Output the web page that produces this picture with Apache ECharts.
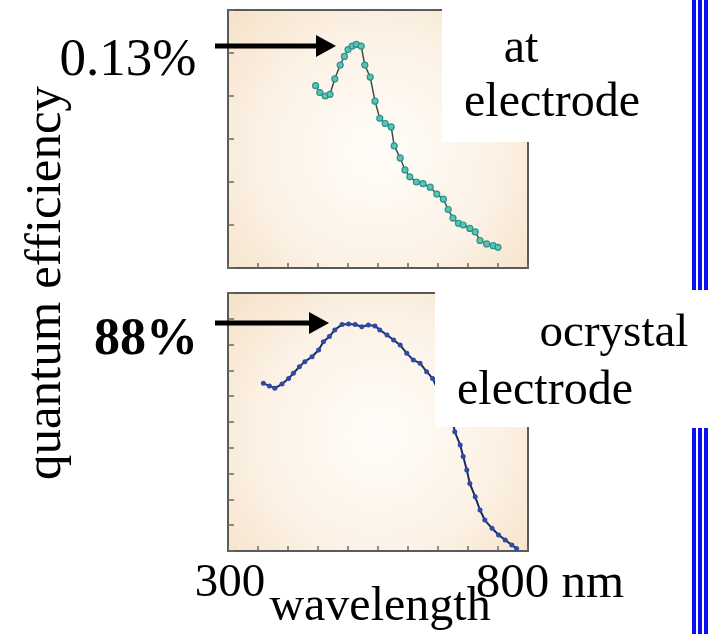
<!DOCTYPE html>
<html>
<head>
<meta charset="utf-8">
<script src="https://cdn.jsdelivr.net/npm/echarts@6/dist/echarts.min.js"></script>
<style>
  html, body { margin: 0; padding: 0; background: #ffffff; }
  #chart { width: 708px; height: 634px; }
</style>
</head>
<body>
<div id="chart"></div>
<script>
// Wavelength axis (nm)
const wlMin = 300, wlMax = 800, wlStep = 50;

// Upper panel: quantum efficiency (%) at the electrode
const topWavelength = [446, 453, 462, 470, 478, 487, 494, 500, 507, 514, 522, 528, 537, 545, 553, 562, 572, 577, 587, 595, 603, 614, 625, 637, 648, 659, 667, 675, 684, 692, 703, 712, 720, 731, 742, 750];
const topEfficiency = [0.106, 0.102, 0.100, 0.101, 0.110, 0.118, 0.123, 0.127, 0.129, 0.130, 0.129, 0.118, 0.111, 0.097, 0.087, 0.084, 0.082, 0.071, 0.064, 0.057, 0.053, 0.050, 0.049, 0.047, 0.043, 0.040, 0.034, 0.029, 0.026, 0.025, 0.023, 0.021, 0.016, 0.014, 0.013, 0.012];
const topYMax = 0.15, topYStep = 0.025;

// Lower panel: quantum efficiency (%) at the nanocrystal electrode
const botWavelength = [359, 369, 378, 390, 401, 409, 419, 428, 440, 451, 459, 469, 478, 490, 501, 512, 523, 534, 545, 553, 565, 576, 587, 598, 609, 620, 631, 641, 676, 678, 687, 692, 698, 703, 712, 720, 728, 740, 751, 762, 773, 781];
const botEfficiency = [65.0, 64.0, 63.1, 64.7, 66.9, 68.9, 71.4, 73.4, 75.3, 77.9, 81.1, 83.1, 85.7, 87.8, 88.0, 87.8, 86.9, 87.6, 87.2, 85.7, 83.7, 81.8, 79.8, 76.6, 74.0, 72.8, 69.5, 66.9, 48.8, 46.2, 41.1, 36.6, 31.4, 26.2, 21.0, 15.9, 12.0, 8.8, 6.2, 4.3, 2.3, 1.0];
const botYMax = 100, botYStep = 10;

// Annotation text
const topPeakLabel = '0.13%';
const botPeakLabel = '88%';
const topNote = ['at', 'electrode'];
const botNote = ['ocrystal', 'electrode'];
const yTitle = 'quantum efficiency';
const xTitle = 'wavelength';
const xStartLabel = '300';
const xEndLabel = '800 nm';

const serif = '"Liberation Serif", "Times New Roman", serif';

const panelBg = new echarts.graphic.RadialGradient(0.5, 0.55, 0.75, [
  { offset: 0, color: '#fffdf9' },
  { offset: 0.6, color: '#fcf2e6' },
  { offset: 1, color: '#f6e3cb' }
]);

function xAxisFor(gridIndex) {
  return {
    gridIndex, type: 'value', min: wlMin, max: wlMax, interval: wlStep,
    axisLine: { show: true, lineStyle: { color: '#5a5a5a', width: 2 } },
    axisTick: { show: true, inside: true, length: 5, lineStyle: { color: '#6a6a6a', width: 1.5 } },
    axisLabel: { show: false },
    splitLine: { show: false }
  };
}
function yAxisFor(gridIndex, max, step) {
  return {
    gridIndex, type: 'value', min: 0, max, interval: step,
    axisLine: { show: true, lineStyle: { color: '#5a5a5a', width: 2 } },
    axisTick: { show: true, inside: true, length: 6, lineStyle: { color: '#6a6a6a', width: 1.5 } },
    axisLabel: { show: false },
    splitLine: { show: false }
  };
}
function pairs(xs, ys) { return xs.map((x, i) => [x, ys[i]]); }

function label(text, x, y, size, opts) {
  return Object.assign({
    type: 'text', z: 120, x, y,
    style: Object.assign({
      text, fontSize: size, fontFamily: serif, fill: '#000',
      align: 'center', verticalAlign: 'middle'
    }, (opts && opts.style) || {})
  }, opts && opts.el ? opts.el : {});
}

function arrow(x0, x1, y) {
  return [
    { type: 'line', z: 120, shape: { x1: x0, y1: y, x2: x1 - 16, y2: y }, style: { stroke: '#000', lineWidth: 5 } },
    { type: 'polygon', z: 120, shape: { points: [[x1 - 20, y - 11], [x1, y], [x1 - 20, y + 11]] }, style: { fill: '#000' } }
  ];
}

const chart = echarts.init(document.getElementById('chart'), null, { renderer: 'canvas' });

chart.setOption({
  animation: false,
  backgroundColor: '#ffffff',
  grid: [
    { left: 228, top: 10, width: 300, height: 258, show: true, backgroundColor: panelBg, borderColor: '#5a5a5a', borderWidth: 2 },
    { left: 228, top: 293, width: 300, height: 258, show: true, backgroundColor: panelBg, borderColor: '#5a5a5a', borderWidth: 2 }
  ],
  xAxis: [xAxisFor(0), xAxisFor(1)],
  yAxis: [yAxisFor(0, topYMax, topYStep), yAxisFor(1, botYMax, botYStep)],
  series: [
    {
      type: 'line', xAxisIndex: 0, yAxisIndex: 0,
      data: pairs(topWavelength, topEfficiency),
      symbol: 'circle', symbolSize: 6,
      lineStyle: { color: '#3f4d4a', width: 1.5 },
      itemStyle: { color: '#5cc2b8', borderColor: '#2a938a', borderWidth: 1.2 }
    },
    {
      type: 'line', xAxisIndex: 1, yAxisIndex: 1,
      data: pairs(botWavelength, botEfficiency),
      symbol: 'circle', symbolSize: 5,
      lineStyle: { color: '#1c2a5c', width: 2 },
      itemStyle: { color: '#2d4ba6', borderColor: '#2d4ba6', borderWidth: 0 }
    }
  ],
  graphic: [
    // white panels carrying the side notes
    { type: 'rect', z: 110, shape: { x: 442, y: 0, width: 246, height: 142 }, style: { fill: '#ffffff' } },
    { type: 'rect', z: 110, shape: { x: 435, y: 288, width: 253, height: 139 }, style: { fill: '#ffffff' } },
    // blue rules on the right edge
    { type: 'rect', z: 110, shape: { x: 692, y: 0, width: 4, height: 290 }, style: { fill: '#0a10f2' } },
    { type: 'rect', z: 110, shape: { x: 698, y: 0, width: 4, height: 290 }, style: { fill: '#0a10f2' } },
    { type: 'rect', z: 110, shape: { x: 704, y: 0, width: 4, height: 290 }, style: { fill: '#0a10f2' } },
    { type: 'rect', z: 110, shape: { x: 692, y: 428, width: 4, height: 206 }, style: { fill: '#0a10f2' } },
    { type: 'rect', z: 110, shape: { x: 698, y: 428, width: 4, height: 206 }, style: { fill: '#0a10f2' } },
    { type: 'rect', z: 110, shape: { x: 704, y: 428, width: 4, height: 206 }, style: { fill: '#0a10f2' } },
    ...arrow(215, 336, 46),
    ...arrow(215, 329, 323),
    label(topPeakLabel, 128, 61, 53),
    label(botPeakLabel, 146, 341, 52, { style: { fontWeight: 'bold' } }),
    label(topNote[0], 521, 49, 48),
    label(topNote[1], 552, 103, 48),
    label(botNote[0], 614, 334, 47),
    label(botNote[1], 545, 391, 48),
    label(yTitle, 47, 283, 51, { el: { rotation: Math.PI / 2 } }),
    label(xStartLabel, 230, 584, 47),
    label(xTitle, 380, 607, 48),
    label(xEndLabel, 550, 584, 49)
  ]
});
</script>
</body>
</html>
